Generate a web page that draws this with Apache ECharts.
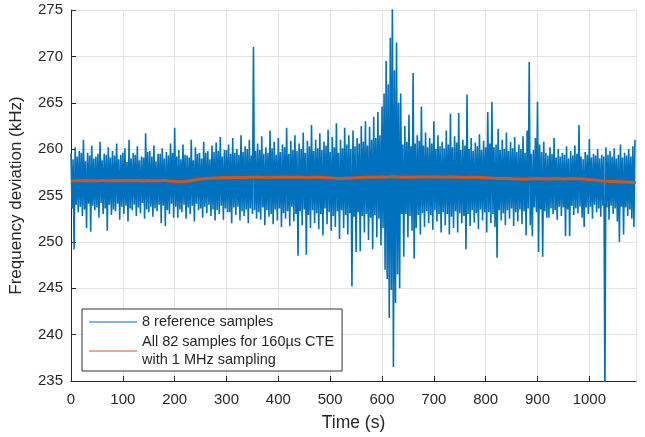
<!DOCTYPE html>
<html>
<head>
<meta charset="utf-8">
<script src="https://cdn.jsdelivr.net/npm/echarts@6/dist/echarts.min.js"></script>
<style>
  html, body { margin: 0; padding: 0; background: #fff; }
  #chart { width: 645px; height: 437px; }
</style>
</head>
<body>
<div id="chart"></div>
<script>
// time step of the reference trace (s) and of the averaged trace (s)
const refStep = 4;
const avgStep = 10;

// 8 reference samples (kHz): upper swings, read at t = 0, 4, 8, ... s
const refHigh = [
  259.5, 258.9, 260.2, 259.2, 259.8, 259.6, 261.0, 258.7, 259.6, 259.3,
  260.4, 259.0, 259.2, 259.5, 260.8, 258.8, 259.5, 259.4, 260.2, 259.1,
  259.8, 259.3, 260.6, 258.9, 259.4, 259.6, 260.1, 258.6, 261.0, 259.0,
  259.6, 259.4, 260.3, 258.8, 259.2, 259.1, 261.7, 259.7, 259.8, 259.2,
  260.4, 258.7, 259.5, 259.5, 260.1, 259.0, 259.7, 259.3, 260.6, 259.6,
  262.3, 259.2, 259.9, 258.9, 260.5, 259.4, 259.3, 259.1, 261.0, 258.8,
  260.2, 259.5, 259.6, 259.0, 260.8, 259.6, 259.8, 258.9, 260.4, 259.7,
  260.7, 259.8, 261.3, 259.2, 259.9, 259.9, 260.5, 259.5, 261.2, 259.6,
  260.0, 259.4, 261.5, 259.7, 260.3, 260.0, 261.0, 259.3, 271.0, 259.8,
  260.6, 259.9, 261.4, 259.5, 260.2, 259.6, 262.0, 260.1, 260.8, 259.4,
  261.2, 259.7, 260.5, 260.2, 262.3, 259.5, 260.9, 259.9, 261.5, 259.8,
  260.6, 260.0, 261.8, 259.6, 260.9, 260.3, 262.6, 259.8, 261.0, 260.1,
  261.7, 259.9, 260.8, 260.4, 262.1, 259.7, 261.3, 260.2, 262.8, 259.6,
  261.0, 260.1, 262.3, 260.5, 261.5, 260.0, 262.0, 260.3, 261.2, 260.6,
  262.5, 260.8, 263.0, 260.4, 262.4, 261.0, 263.5, 261.2, 264.0, 261.5,
  264.6, 266.0, 269.5, 267.0, 272.0, 276.0, 268.5, 271.5, 265.0, 266.0,
  260.5, 262.5, 260.8, 263.7, 260.3, 268.2, 260.6, 261.5, 260.9, 264.6,
  260.4, 261.8, 260.2, 261.2, 260.6, 263.0, 260.0, 261.5, 260.3, 260.8,
  260.1, 262.0, 260.5, 263.8, 260.2, 261.4, 260.7, 263.9, 259.9, 261.0,
  260.4, 265.9, 260.0, 261.2, 259.8, 260.7, 260.3, 261.6, 259.9, 260.9,
  260.2, 264.0, 260.6, 265.1, 260.2, 260.5, 262.2, 259.9, 261.0, 260.0,
  261.8, 259.8, 260.8, 260.1, 261.3, 259.7, 260.5, 260.0, 261.4, 259.6,
  262.0, 269.4, 259.5, 259.9, 261.2, 265.1, 260.5, 259.7, 260.8, 259.6,
  259.3, 260.2, 259.5, 261.2, 259.1, 260.0, 259.2, 259.6, 259.4, 260.3,
  259.0, 259.8, 259.3, 260.4, 259.5, 262.6, 259.2, 258.9, 259.7, 259.4,
  261.1, 259.1, 259.5, 259.3, 260.0, 259.0, 259.4, 259.2, 260.2, 259.4,
  259.8, 259.2, 260.1, 259.0, 259.4, 260.5, 259.1, 259.6, 259.3, 260.0,
  259.2, 260.3, 261.0
];

// 8 reference samples (kHz): lower swings, read at t = 2, 6, 10, ... s
const refLow = [
  253.6, 249.2, 254.0, 253.2, 253.8, 252.8, 253.5, 251.5, 254.1, 251.1,
  253.9, 253.4, 253.7, 252.6, 254.2, 253.0, 253.6, 251.2, 254.0, 252.9,
  253.5, 253.3, 254.1, 252.4, 253.8, 253.0, 253.9, 252.2, 253.6, 253.4,
  254.0, 252.8, 253.7, 253.1, 254.2, 252.5, 253.5, 253.2, 253.8, 252.7,
  253.6, 253.3, 254.0, 252.0, 253.9, 251.7, 253.4, 253.0, 254.1, 252.6,
  253.8, 252.6, 253.5, 253.2, 254.0, 252.5, 253.7, 253.0, 253.9, 252.2,
  254.1, 253.4, 253.6, 252.6, 253.8, 253.1, 254.0, 252.8, 253.5, 252.3,
  253.4, 253.0, 253.9, 252.4, 253.6, 253.2, 253.2, 252.0, 253.7, 252.9,
  253.8, 252.3, 253.3, 252.8, 253.5, 252.0, 253.6, 253.0, 253.4, 252.5,
  253.2, 252.4, 253.7, 251.8, 253.4, 252.7, 253.0, 251.9, 253.5, 252.3,
  253.6, 251.6, 253.1, 252.5, 253.3, 251.7, 253.8, 252.2, 253.0, 248.5,
  253.3, 251.8, 253.5, 248.6, 252.9, 251.5, 253.4, 252.0, 253.1, 251.4,
  253.0, 250.7, 253.6, 251.9, 253.2, 251.2, 252.8, 251.6, 253.3, 250.3,
  253.4, 251.5, 252.9, 250.8, 253.1, 245.2, 252.7, 248.9, 253.2, 249.0,
  252.8, 251.0, 253.0, 250.2, 252.6, 249.2, 252.9, 250.5, 252.5, 249.6,
  251.5, 247.0, 246.0, 241.8, 244.8, 236.5, 243.4, 246.5, 245.0, 253.0,
  248.4, 253.0, 250.5, 252.8, 251.2, 248.2, 251.5, 252.9, 250.8, 253.1,
  251.6, 253.3, 252.0, 252.9, 251.3, 253.4, 252.2, 253.0, 251.0, 253.2,
  251.8, 253.0, 250.8, 252.7, 251.5, 253.3, 251.0, 253.1, 252.0, 252.8,
  249.2, 253.0, 251.7, 253.4, 252.1, 253.1, 251.4, 253.5, 252.3, 253.2,
  251.0, 253.2, 252.0, 253.0, 251.6, 248.3, 253.4, 252.3, 253.1, 251.8,
  253.4, 252.5, 253.6, 251.7, 253.2, 252.2, 253.5, 251.9, 253.3, 250.7,
  253.6, 251.8, 250.6, 253.7, 253.2, 248.9, 253.5, 248.4, 253.3, 252.6,
  252.6, 253.6, 253.0, 253.4, 252.4, 253.8, 252.8, 253.7, 250.6, 253.5,
  250.6, 253.9, 252.9, 253.6, 253.1, 253.8, 252.6, 251.6, 253.7, 253.0,
  253.8, 252.5, 254.0, 253.2, 253.6, 252.7, 253.9, 233.0, 253.7, 252.4,
  253.9, 253.0, 253.6, 252.2, 250.0, 253.8, 250.8, 253.7, 252.8, 253.5,
  252.5, 251.6
];

// all 82 samples (160us CTE, 1 MHz sampling), read at t = 0, 10, 20, ... s
const avgValues = [
  256.55, 256.60, 256.58, 256.62, 256.60, 256.57, 256.63, 256.60, 256.58, 256.62,
  256.60, 256.64, 256.59, 256.61, 256.57, 256.62, 256.60, 256.58, 256.63, 256.55,
  256.50, 256.48, 256.52, 256.60, 256.70, 256.78, 256.82, 256.86, 256.90, 256.92,
  256.94, 256.92, 256.96, 256.95, 256.98, 256.96, 256.99, 256.97, 256.95, 256.98,
  256.97, 257.00, 256.96, 256.98, 257.00, 256.97, 256.95, 256.98, 256.96, 256.94,
  256.90, 256.85, 256.82, 256.86, 256.88, 256.92, 256.95, 256.97, 256.98, 256.96,
  257.02, 256.98, 257.05, 256.99, 256.97, 257.00, 256.98, 257.02, 257.00, 256.99,
  257.02, 257.00, 256.98, 257.01, 256.99, 256.97, 256.95, 256.98, 256.96, 256.94,
  256.92, 256.90, 256.86, 256.84, 256.85, 256.80, 256.78, 256.75, 256.77, 256.80,
  256.82, 256.80, 256.78, 256.80, 256.82, 256.79, 256.80, 256.83, 256.80, 256.78,
  256.70, 256.66, 256.60, 256.55, 256.52, 256.50, 256.47, 256.45, 256.42, 256.40
];

const seriesNames = [
  '8 reference samples',
  'All 82 samples for 160µs CTE\nwith 1 MHz sampling'
];

// interleave upper and lower swings in time order
const refData = [];
refHigh.forEach((v, i) => {
  refData.push([i * refStep, v]);
  if (i < refLow.length) {
    refData.push([i * refStep + refStep / 2, refLow[i]]);
  }
});
const avgData = avgValues.map((v, i) => [i * avgStep, v]);

const axisColor = '#262626';
const font = '"Liberation Sans", Arial, Helvetica, sans-serif';

const myChart = echarts.init(document.getElementById('chart'));
const option = {
  animation: false,
  backgroundColor: '#ffffff',
  grid: { left: 69, right: 9, top: 10, bottom: 54 },
  xAxis: {
    type: 'value',
    min: 0,
    max: 1090,
    interval: 100,
    name: 'Time (s)',
    nameLocation: 'middle',
    nameGap: 33,
    nameTextStyle: { color: axisColor, fontSize: 17.5, fontFamily: font },
    axisLine: { lineStyle: { color: axisColor, width: 1 } },
    axisTick: { inside: true, length: 5, lineStyle: { color: axisColor } },
    axisLabel: {
      color: axisColor, fontSize: 15, fontFamily: font, margin: 11, showMaxLabel: false,
      formatter: (v) => String(v)
    },
    splitLine: { show: true, lineStyle: { color: '#e3e3e3', width: 1 } }
  },
  yAxis: {
    type: 'value',
    min: 235,
    max: 275,
    interval: 5,
    name: 'Frequency deviation (kHz)',
    nameLocation: 'middle',
    nameGap: 46,
    nameTextStyle: { color: axisColor, fontSize: 17, fontFamily: font },
    axisLine: { show: true, lineStyle: { color: axisColor, width: 1 } },
    axisTick: { show: true, inside: true, length: 5, lineStyle: { color: axisColor } },
    axisLabel: { color: axisColor, fontSize: 15, fontFamily: font, margin: 8 },
    splitLine: { show: true, lineStyle: { color: '#e3e3e3', width: 1 } }
  },
  legend: {
    orient: 'vertical',
    left: 82,
    top: 309,
    padding: [4, 8, 2, 7],
    itemGap: 2,
    itemWidth: 48,
    itemHeight: 1,
    icon: 'rect',
    backgroundColor: '#ffffff',
    borderColor: '#333333',
    borderWidth: 1,
    borderRadius: 0,
    textStyle: { color: axisColor, fontSize: 14.5, fontFamily: font, lineHeight: 18 },
    data: seriesNames
  },
  series: [
    {
      name: seriesNames[0],
      type: 'line',
      data: refData,
      symbol: 'none',
      showSymbol: false,
      lineStyle: { color: '#0072BD', width: 1.6 },
      itemStyle: { color: '#0072BD' },
      z: 2
    },
    {
      name: seriesNames[1],
      type: 'line',
      data: avgData,
      symbol: 'none',
      showSymbol: false,
      lineStyle: { color: '#D95319', width: 3 },
      itemStyle: { color: '#D95319' },
      z: 3
    }
  ]
};
option && myChart.setOption(option);
</script>
</body>
</html>
